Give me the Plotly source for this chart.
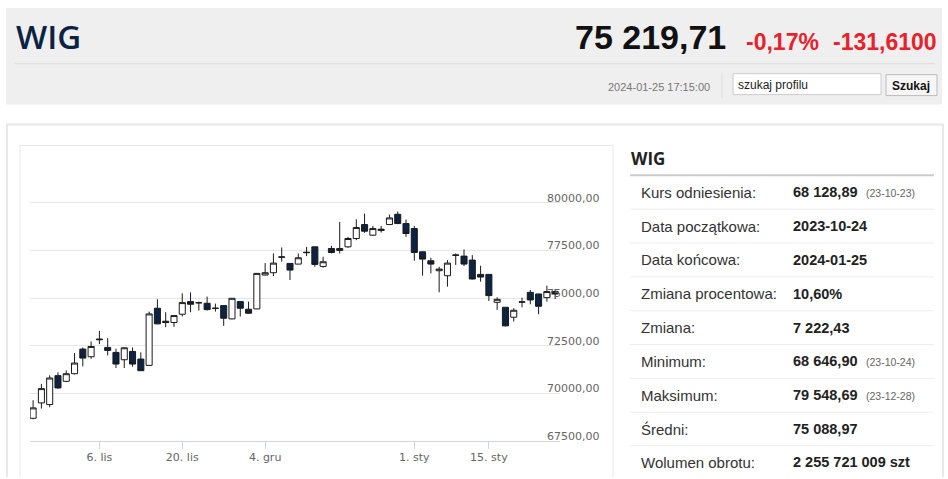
import plotly.graph_objects as go

# --- data -------------------------------------------------------------
dates = [
    "2023-10-24", "2023-10-25", "2023-10-26", "2023-10-27", "2023-10-30", "2023-10-31",
    "2023-11-02", "2023-11-03", "2023-11-06", "2023-11-07", "2023-11-08", "2023-11-09",
    "2023-11-10", "2023-11-13", "2023-11-14", "2023-11-15", "2023-11-16", "2023-11-17",
    "2023-11-20", "2023-11-21", "2023-11-22", "2023-11-23", "2023-11-24", "2023-11-27",
    "2023-11-28", "2023-11-29", "2023-11-30", "2023-12-01", "2023-12-04", "2023-12-05",
    "2023-12-06", "2023-12-07", "2023-12-08", "2023-12-11", "2023-12-12", "2023-12-13",
    "2023-12-14", "2023-12-15", "2023-12-18", "2023-12-19", "2023-12-20", "2023-12-21",
    "2023-12-22", "2023-12-27", "2023-12-28", "2023-12-29", "2024-01-02", "2024-01-03",
    "2024-01-04", "2024-01-05", "2024-01-08", "2024-01-09", "2024-01-10", "2024-01-11",
    "2024-01-12", "2024-01-15", "2024-01-16", "2024-01-17", "2024-01-18", "2024-01-19",
    "2024-01-22", "2024-01-23", "2024-01-24", "2024-01-25",
]
opens = [
    68700, 69507, 69420, 70937, 70640, 71040, 72331, 71930, 72820, 72418,
    72157, 71773, 72209, 71808, 71477, 74475, 73795, 73725, 74161, 74823,
    74770, 74736, 74480, 74614, 73917, 74823, 74423, 74440, 76218, 76340,
    77150, 76828, 76793, 77390, 77699, 76671, 77612, 77508, 77699, 78135,
    78867, 78309, 78553, 78867, 79407, 78919, 78658, 77438, 76967, 76444,
    76183, 77250, 77211, 77002, 76253, 76253, 74788, 74527, 74004, 74790,
    75311, 75224, 75032, 75350,
]
highs = [
    69646, 70501, 70954, 71111, 71215, 72122, 72418, 72732, 73289, 72906,
    72348, 72420, 72418, 72157, 74300, 74945, 74266, 74100, 75259, 75311,
    74823, 75085, 74719, 74620, 75010, 74830, 74823, 76320, 76845, 77351,
    77664, 76840, 77351, 77699, 77710, 77176, 77752, 79007, 78222, 79146,
    79442, 78797, 78797, 79390, 79548.69, 79128, 78797, 77450, 77124, 76654,
    77002, 77351, 77560, 77263, 76706, 76260, 75050, 74540, 74475, 75032,
    75434, 75230, 75660, 75486,
]
lows = [
    68646.90, 69211, 69281, 70250, 70600, 71000, 71425, 71825, 72592, 72000,
    71337, 71337, 71407, 71180, 71450, 73640, 73481, 73499, 74039, 74266,
    74353, 74353, 74300, 73551, 73900, 74039, 74200, 74430, 76200, 76166,
    76915, 75956, 76780, 77211, 76654, 76601, 77351, 77351, 77647, 78048,
    78431, 78274, 78449, 78860, 78910, 78222, 76967, 76183, 76305, 75311,
    75608, 76741, 76688, 75990, 75869, 74858, 74388, 73516, 73778, 74527,
    74684, 74161, 74823, 74963,
]
closes = [
    69246, 70257, 70814, 70292, 71040, 71599, 71860, 72470, 72850, 72261,
    71546, 72401, 71546, 71198, 74178, 73656, 73725, 74091, 74771, 74684,
    74760, 74405, 74470, 73952, 74998, 74475, 74213, 76305, 76340, 76845,
    77170, 76479, 77124, 77410, 76776, 76915, 77403, 77612, 78135, 78710,
    78519, 78658, 78623, 79216, 78919, 78397, 77403, 77054, 76793, 76531,
    76845, 77270, 76793, 76009, 76113, 75137, 74945, 73551, 74370, 74810,
    74910, 74579, 75351.32, 75219.71,
]
holidays = ["2023-11-01", "2023-12-25", "2023-12-26", "2024-01-01"]

# 1 Jan falls in a break, so its label sits on the first session of the year
x_tick_dates = ["2023-11-06", "2023-11-20", "2023-12-04", "2024-01-02", "2024-01-15"]
x_tick_labels = ["6. lis", "20. lis", "4. gru", "1. sty", "15. sty"]
y_tick_values = [67500, 70000, 72500, 75000, 77500, 80000, 82500]
y_tick_labels = ["67500,00", "70000,00", "72500,00", "75000,00", "77500,00", "80000,00", ""]

index_name = "WIG"
last_value = "75 219,71"
change_pct = "-0,17%"
change_abs = "-131,6100"
timestamp = "2024-01-25 17:15:00"

stat_labels = ["Kurs odniesienia:", "Data początkowa:", "Data końcowa:",
               "Zmiana procentowa:", "Zmiana:", "Minimum:", "Maksimum:",
               "Średni:", "Wolumen obrotu:"]
stat_values = ["68 128,89", "2023-10-24", "2024-01-25", "10,60%", "7 222,43",
               "68 646,90", "79 548,69", "75 088,97", "2 255 721 009 szt"]
stat_dates = ["(23-10-23)", "", "", "", "", "(23-10-24)", "(23-12-28)", "", ""]

# --- page geometry helpers (pixels of the 948x479 shot -> paper) -------
# height is left to the window (100vh) so the page always fills the shot
W, H = 948, 479


def px(x):
    return x / W


def py(y):
    return 1 - y / H


def box(x0, y0, x1, y1, fill):
    return dict(type="rect", xref="paper", yref="paper",
                x0=px(x0), x1=px(x1), y0=py(y1), y1=py(y0),
                fillcolor=fill, line=dict(width=0), layer="below")


def open_frame(x0, y0, x1, color, lw=1):
    # left, top and right edges only: the boxes run off the bottom of the page
    path = "M {} {} L {} {} L {} {} L {} {}".format(
        px(x0), py(H), px(x0), py(y0), px(x1), py(y0), px(x1), py(H))
    return dict(type="path", xref="paper", yref="paper", path=path,
                line=dict(color=color, width=lw), layer="below")


def hline(x0, x1, y, color, lw=1):
    return dict(type="line", xref="paper", yref="paper",
                x0=px(x0), x1=px(x1), y0=py(y), y1=py(y),
                line=dict(color=color, width=lw))


def rect_line(x0, y0, x1, y1, fill, color):
    return dict(type="rect", xref="paper", yref="paper",
                x0=px(x0), x1=px(x1), y0=py(y1), y1=py(y0),
                fillcolor=fill, line=dict(color=color, width=1))


def text(x, y, s, size, color, family="Liberation Sans, Arial", weight="normal",
         xanchor="left"):
    return dict(xref="paper", yref="paper", x=px(x), y=py(y), text=s,
                showarrow=False, xanchor=xanchor, yanchor="middle",
                font=dict(size=size, color=color, family=family, weight=weight))


fig = go.Figure()
fig.add_trace(go.Candlestick(
    x=dates, open=opens, high=highs, low=lows, close=closes,
    increasing=dict(fillcolor="#ffffff", line=dict(color="#1a1a1a", width=1)),
    decreasing=dict(fillcolor="#0c2344", line=dict(color="#1a1a1a", width=1)),
    whiskerwidth=0,
    showlegend=False,
))

shapes = [
    box(6, 8, 942, 105, "#efefef"),
    hline(15, 935, 64, "#dcdcdc"),
    dict(type="line", xref="paper", yref="paper", x0=px(722), x1=px(722),
         y0=py(98), y1=py(73), line=dict(color="#dddddd", width=1)),
    rect_line(733, 74, 881, 95, "#ffffff", "#cccccc"),
    rect_line(886, 75, 937, 96, "#f6f6f6", "#bbbbbb"),
    open_frame(7, 125, 943, "#e8e8e8", 2),
    open_frame(20, 146, 613, "#e8e8e8", 1),
    hline(630, 934, 176, "#cccccc", 2),
]
row_y = [193, 227, 261, 295, 329, 363, 397, 431, 464]
for i in range(len(row_y) - 1):
    shapes.append(hline(630, 934, (row_y[i] + row_y[i + 1]) / 2, "#eeeeee"))

annotations = [
    text(14, 37, index_name, 33, "#0b2242", family="Open Sans", weight=600),
    text(728, 37, last_value, 34, "#111111", weight="bold", xanchor="right"),
    text(821, 42, change_pct, 23, "#e8212b", weight="bold", xanchor="right"),
    text(939, 42, change_abs, 23, "#e8212b", weight="bold", xanchor="right"),
    text(712, 87, timestamp, 11, "#777777", xanchor="right"),
    text(736, 85, "szukaj profilu", 12, "#222222"),
    text(911, 86, "Szukaj", 12, "#111111", weight="bold", xanchor="center"),
    text(629, 159, index_name, 17, "#222222", family="Open Sans", weight="bold"),
]
for i, lab in enumerate(stat_labels):
    annotations.append(text(639, row_y[i], lab, 15, "#333333"))
    annotations.append(text(791, row_y[i], stat_values[i], 14.5, "#222222",
                            weight="bold"))
    if stat_dates[i]:
        annotations.append(text(864, row_y[i] + 1, stat_dates[i], 10.5, "#666666"))

fig.update_layout(
    width=W,
    margin=dict(l=0, r=0, t=0, b=0),
    paper_bgcolor="#ffffff",
    plot_bgcolor="rgba(0,0,0,0)",
    boxgap=0.27, boxgroupgap=0,
    shapes=shapes,
    annotations=annotations,
    xaxis=dict(
        domain=[px(30), px(560)],
        type="date",
        range=["2023-10-23 15:00", "2024-01-25 14:00"],
        rangebreaks=[dict(bounds=["sat", "mon"]), dict(values=holidays)],
        rangeslider=dict(visible=False),
        tickvals=x_tick_dates, ticktext=x_tick_labels,
        ticks="outside", ticklen=7, tickcolor="#ccd6eb",
        ticklabelstandoff=-1,
        showline=True, linecolor="#ccd6eb", linewidth=1,
        showgrid=False, zeroline=False,
        tickfont=dict(family="DejaVu Sans", size=11, color="#666666"),
    ),
    yaxis=dict(
        domain=[py(443), py(156)],
        range=[67500, 82500],
        side="right",
        tickvals=y_tick_values, ticktext=y_tick_labels,
        showgrid=True, gridcolor="#e6e6e6", gridwidth=1,
        zeroline=False, ticks="",
        ticklabelstandoff=-14, ticklabelshift=-5,
        tickfont=dict(family="DejaVu Sans", size=11, color="#666666"),
    ),
)

# pin the figure to the top-left corner of the window, out of the page flow
page_js = """
var gd = document.getElementById('{plot_id}');
document.body.style.margin = '0';
document.documentElement.style.overflow = 'hidden';
gd.style.position = 'absolute';
gd.style.left = '0px';
gd.style.top = '0px';
"""
fig.write_html("out.html", config={"displayModeBar": False},
               default_height="100vh", post_script=page_js)
